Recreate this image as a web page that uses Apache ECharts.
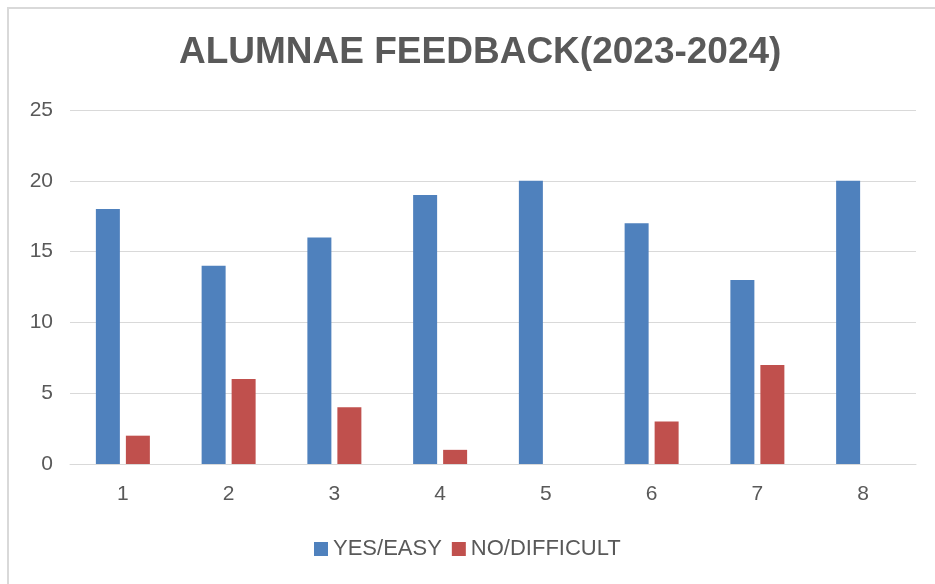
<!DOCTYPE html>
<html>
<head>
<meta charset="utf-8">
<script src="https://cdn.jsdelivr.net/npm/echarts@6/dist/echarts.min.js"></script>
<style>
  html, body { margin: 0; padding: 0; background: #fff; }
  #chart { width: 935px; height: 584px; }
</style>
</head>
<body>
<div id="chart"></div>
<script>
// categories and values
const categories = ['1', '2', '3', '4', '5', '6', '7', '8'];
const yesEasy = [18, 14, 16, 19, 20, 17, 13, 20];
const noDifficult = [2, 6, 4, 1, 0, 3, 7, 0];
const seriesNames = ['YES/EASY', 'NO/DIFFICULT'];

const myChart = echarts.init(document.getElementById('chart'));

const option = {
  animation: false,
  textStyle: { fontFamily: 'Liberation Sans, Arial, sans-serif' },
  graphic: [{
    type: 'rect',
    shape: { x: 8, y: 8, width: 940, height: 590 },
    style: { fill: 'none', stroke: '#d9d9d9', lineWidth: 2 },
    silent: true
  }],
  title: {
    text: 'ALUMNAE FEEDBACK(2023-2024)',
    left: 174,
    top: 29,
    textStyle: {
      fontSize: 37,
      fontWeight: 'bold',
      color: '#595959',
      fontFamily: 'Liberation Sans, Arial, sans-serif'
    }
  },
  legend: {
    data: seriesNames,
    bottom: 19,
    left: 309,
    icon: 'rect',
    itemWidth: 14,
    itemHeight: 14,
    itemGap: 10,
    textStyle: { fontSize: 22, color: '#595959' }
  },
  grid: {
    left: 70,
    right: 19,
    top: 110,
    bottom: 120
  },
  xAxis: {
    type: 'category',
    data: categories,
    axisLine: { lineStyle: { color: '#d9d9d9', width: 1 } },
    axisTick: { show: false },
    axisLabel: { fontSize: 21, color: '#595959', margin: 20 }
  },
  yAxis: {
    type: 'value',
    min: 0,
    max: 25,
    interval: 5,
    axisLine: { show: false },
    axisTick: { show: false },
    splitLine: { lineStyle: { color: '#d9d9d9', width: 1 } },
    axisLabel: { fontSize: 21, color: '#595959', margin: 17 }
  },
  series: [
    {
      name: seriesNames[0],
      type: 'bar',
      data: yesEasy,
      barWidth: 24,
      barGap: '25%',
      itemStyle: { color: '#4f81bd' }
    },
    {
      name: seriesNames[1],
      type: 'bar',
      data: noDifficult,
      barWidth: 24,
      itemStyle: { color: '#c0504d' }
    }
  ]
};

myChart.setOption(option);
</script>
</body>
</html>
